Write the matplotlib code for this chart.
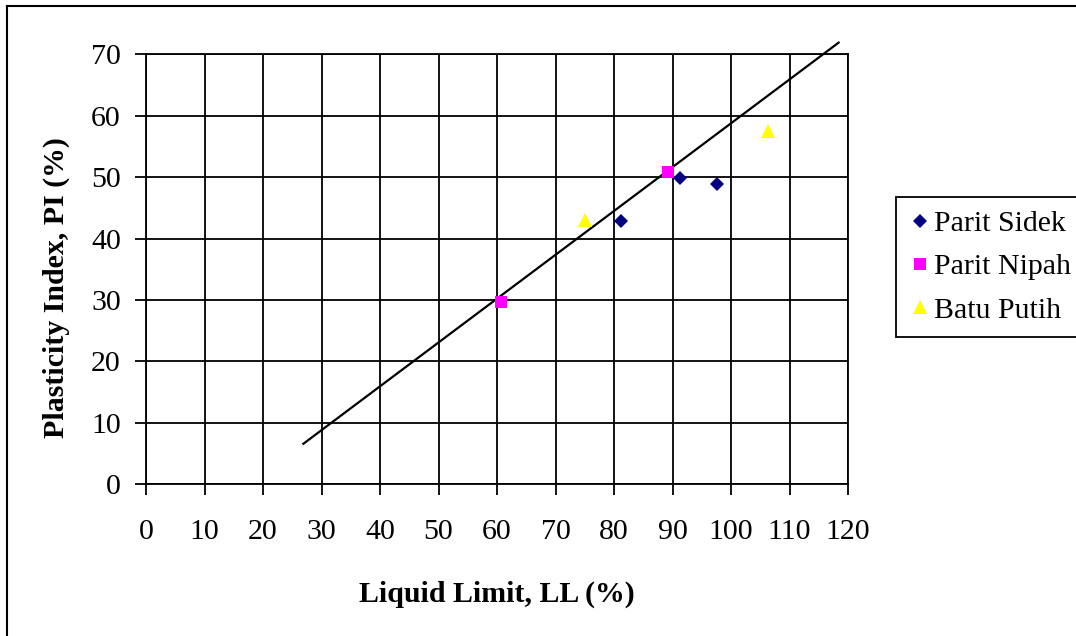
import matplotlib
matplotlib.use("Agg")
import matplotlib.pyplot as plt
from matplotlib.lines import Line2D

# ---- data ----
sidek_ll = [81.2, 91.2, 97.6]
sidek_pi = [42.8, 49.8, 48.9]
nipah_ll = [60.7, 89.2]
nipah_pi = [29.6, 50.8]
putih_ll = [75.1, 106.3]
putih_pi = [43.0, 57.5]
line_ll = [26.9, 118.4]
line_pi = [6.6, 71.9]
x_ticks = list(range(0, 121, 10))
y_ticks = list(range(0, 71, 10))
labels = ["Parit Sidek", "Parit Nipah", "Batu Putih"]

plt.rcParams['font.family'] = ['Liberation Serif', 'DejaVu Serif']

W, H = 1076, 636
fig = plt.figure(figsize=(W / 100, H / 100), dpi=100)
fig.patch.set_facecolor('white')

left, right, top, bottom = 146, 848, 54.3, 484.3
ax = fig.add_axes([left / W, 1 - bottom / H, (right - left) / W, (bottom - top) / H])

FS = 21.5
ax.set_xlim(0, 120)
ax.set_ylim(0, 70)
ax.set_xticks(x_ticks)
ax.set_yticks(y_ticks)
ax.grid(True, color='black', linewidth=1.3, zorder=1)
ax.set_axisbelow(True)
for s in ax.spines.values():
    s.set_color('black')
    s.set_linewidth(1.3)
ax.tick_params(direction='out', length=8, width=1.3, colors='black', labelsize=FS)
ax.tick_params(axis='x', pad=17)
ax.tick_params(axis='y', pad=10)

ax.plot(line_ll, line_pi, color='black', linewidth=1.6, clip_on=False, zorder=2.5)

ax.plot(sidek_ll, sidek_pi, linestyle='none', marker='D', markersize=7.6,
        color='#000080', markeredgewidth=0, label=labels[0], zorder=3)
ax.plot(nipah_ll, nipah_pi, linestyle='none', marker='s', markersize=9.0,
        color='#FF00FF', markeredgewidth=0, label=labels[1], zorder=3)
ax.plot(putih_ll, putih_pi, linestyle='none', marker='^', markersize=10.0,
        color='#FFFF00', markeredgewidth=0, label=labels[2], zorder=3, clip_on=False)

leg = ax.legend(loc='upper left', bbox_to_anchor=(895.7 / W, 1 - 196.7 / H),
                bbox_transform=fig.transFigure, borderaxespad=0,
                fontsize=FS, frameon=True, fancybox=False, shadow=False,
                borderpad=0.45, handlelength=0.7, handletextpad=0.12,
                labelspacing=0.55, numpoints=1)
leg.get_frame().set_edgecolor('black')
leg.get_frame().set_linewidth(1.3)
leg.get_frame().set_alpha(1)

fig.text((left + right) / 2 / W, 1 - 602 / H, "Liquid Limit, LL (%)",
         ha='center', va='baseline', fontsize=FS, fontweight='bold')
fig.text(56 / W, 1 - 288 / H, "Plasticity Index, PI (%)",
         ha='center', va='center', rotation=90, fontsize=FS, fontweight='bold')

# figure border (left and top visible)
fig.add_artist(Line2D([7 / W, 7 / W], [0, 1 - 6 / H], transform=fig.transFigure,
                      color='black', linewidth=1.5))
fig.add_artist(Line2D([7 / W, 1], [1 - 6 / H, 1 - 6 / H], transform=fig.transFigure,
                      color='black', linewidth=1.5))

fig.savefig('out.png', dpi=100)
